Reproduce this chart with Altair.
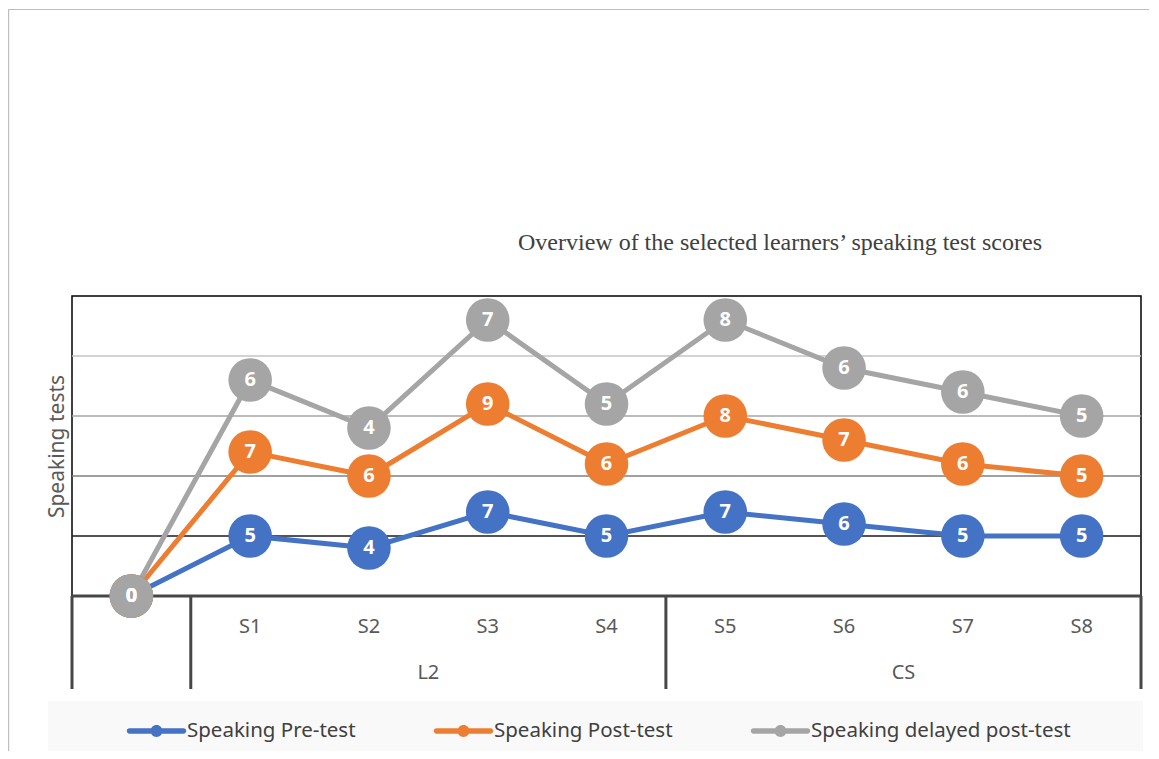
import altair as alt
import pandas as pd

# ---- data ----
categories = ["", "S1", "S2", "S3", "S4", "S5", "S6", "S7", "S8"]
group_names = ["L2", "CS"]
group_members = [["S1", "S2", "S3", "S4"], ["S5", "S6", "S7", "S8"]]
series_names = ["Speaking Pre-test", "Speaking Post-test", "Speaking delayed post-test"]
pre = [0, 5, 4, 7, 5, 7, 6, 5, 5]
post = [0, 7, 6, 9, 6, 8, 7, 6, 5]
delayed = [0, 6, 4, 7, 5, 8, 6, 6, 5]
grid_values = [5, 10, 15, 20]
title_text = "Overview of the selected learners\u2019 speaking test scores"
y_title = "Speaking tests"

colors = ["#4472C4", "#ED7D31", "#A5A5A5"]
grid_colors = ["#1a1a1a", "#808080", "#A6A6A6", "#C4C4C4"]

# ---- build tables (stacked line chart: cumulative values) ----
rows = []
cum = [0] * len(categories)
for name, vals in zip(series_names, [pre, post, delayed]):
    for i, (c, v) in enumerate(zip(categories, vals)):
        cum[i] += v
        rows.append({"idx": i, "cat": c, "series": name, "value": v, "cum": cum[i]})
df = pd.DataFrame(rows)

cat_df = pd.DataFrame({"idx": list(range(len(categories))), "cat": categories})
grp_df = pd.DataFrame({
    "grp": group_names,
    "idx": [sum(categories.index(m) for m in mem) / len(mem) for mem in group_members],
})
sep_df = pd.DataFrame({"xs": [-0.5, 0.5, 4.5, 8.5], "y0": [0, 0, 0, 0]})
grid_df = pd.DataFrame({"g": grid_values, "gc": [str(g) for g in grid_values]})
one = pd.DataFrame({"a": [0]})

W, H = 1069, 300
xsc = alt.Scale(domain=[-0.5, len(categories) - 0.5], nice=False)
ysc = alt.Scale(domain=[0, 25], nice=False)
font = "Noto Sans"

# outer light frame of the figure
frame_top = alt.Chart(one).mark_rule(color="#BFBFBF", strokeWidth=1.2).encode(
    x=alt.value(-64), x2=alt.value(1100), y=alt.value(-286.5))
frame_left = alt.Chart(one).mark_rule(color="#BFBFBF", strokeWidth=1.2).encode(
    x=alt.value(-63.4), y=alt.value(-287), y2=alt.value(470))

legend_bg = alt.Chart(one).mark_rect(color="#F9F9F9").encode(
    x=alt.value(-24), x2=alt.value(1071), y=alt.value(405), y2=alt.value(470))

grid = alt.Chart(grid_df).mark_rule(strokeWidth=1.3).encode(
    y=alt.Y("g:Q", scale=ysc,
            axis=alt.Axis(title=y_title, labels=False, ticks=False, domain=False, grid=False,
                          titleX=-15, titleY=150, titleAngle=270, titleBaseline="middle",
                          titleAlign="center", titleFont=font, titleFontSize=21,
                          titleFontWeight="normal", titleColor="#595959")),
    color=alt.Color("gc:N", scale=alt.Scale(domain=[str(g) for g in grid_values], range=grid_colors),
                    legend=None),
)

axis_line = alt.Chart(one).mark_rule(color="#474747", strokeWidth=3).encode(
    x=alt.value(0), x2=alt.value(W), y=alt.value(H))

seps = alt.Chart(sep_df).mark_rule(color="#474747", strokeWidth=3).encode(
    x=alt.X("xs:Q", scale=xsc, axis=None),
    y=alt.Y("y0:Q", scale=ysc),
    y2=alt.value(393),
)

lines = alt.Chart(df).mark_line(strokeWidth=5).encode(
    x=alt.X("idx:Q", scale=xsc, axis=None),
    y=alt.Y("cum:Q", scale=ysc),
    stroke=alt.Stroke("series:N", scale=alt.Scale(domain=series_names, range=colors), legend=None),
)

legend_path = ("M-0.95,-0.093 L0.95,-0.093 A0.093,0.093 0 0 1 0.95,0.093 L-0.95,0.093 "
               "A0.093,0.093 0 0 1 -0.95,-0.093 Z M-0.21,0 A0.21,0.21 0 1 1 0.21,0 "
               "A0.21,0.21 0 1 1 -0.21,0 Z")

points = alt.Chart(df).mark_circle(size=1900, opacity=1).encode(
    x=alt.X("idx:Q", scale=xsc),
    y=alt.Y("cum:Q", scale=ysc),
    color=alt.Color("series:N", scale=alt.Scale(domain=series_names, range=colors),
                    legend=alt.Legend(title=None, orient="none", direction="horizontal",
                                      legendX=56, legendY=406.5, padding=0,
                                      symbolType=legend_path, symbolSize=3249,
                                      symbolStrokeWidth=0, symbolOpacity=1,
                                      labelFont=font, labelFontSize=20.5, labelColor="#404040",
                                      labelOffset=2, columnPadding=77, labelLimit=400)),
)

labels = alt.Chart(df).mark_text(color="white", fontWeight="bold", fontSize=20, font=font,
                                 baseline="middle", align="center").encode(
    x=alt.X("idx:Q", scale=xsc),
    y=alt.Y("cum:Q", scale=ysc),
    text=alt.Text("value:Q"),
)

cat_labels = alt.Chart(cat_df).mark_text(font=font, fontSize=20, color="#595959",
                                         baseline="middle").encode(
    x=alt.X("idx:Q", scale=xsc), y=alt.value(331), text="cat:N")

grp_labels = alt.Chart(grp_df).mark_text(font=font, fontSize=20, color="#595959",
                                         baseline="middle").encode(
    x=alt.X("idx:Q", scale=xsc), y=alt.value(377), text="grp:N")

title = alt.Chart(one).mark_text(text=title_text, font="Liberation Serif", fontSize=24,
                                 color="#404040", baseline="middle", align="center").encode(
    x=alt.value(708), y=alt.value(-53))

chart = alt.layer(
    frame_top, frame_left, legend_bg, grid, axis_line, seps, lines, points, labels,
    cat_labels, grp_labels, title,
).properties(
    width=W, height=H,
    autosize=alt.AutoSizeParams(type="none"),
    padding={"left": 64, "top": 288, "right": 8, "bottom": 155},
).configure_view(stroke="#000000", strokeWidth=1.5).resolve_scale(color="independent")

chart.save("out.html", embed_options={"renderer": "svg", "actions": False})
